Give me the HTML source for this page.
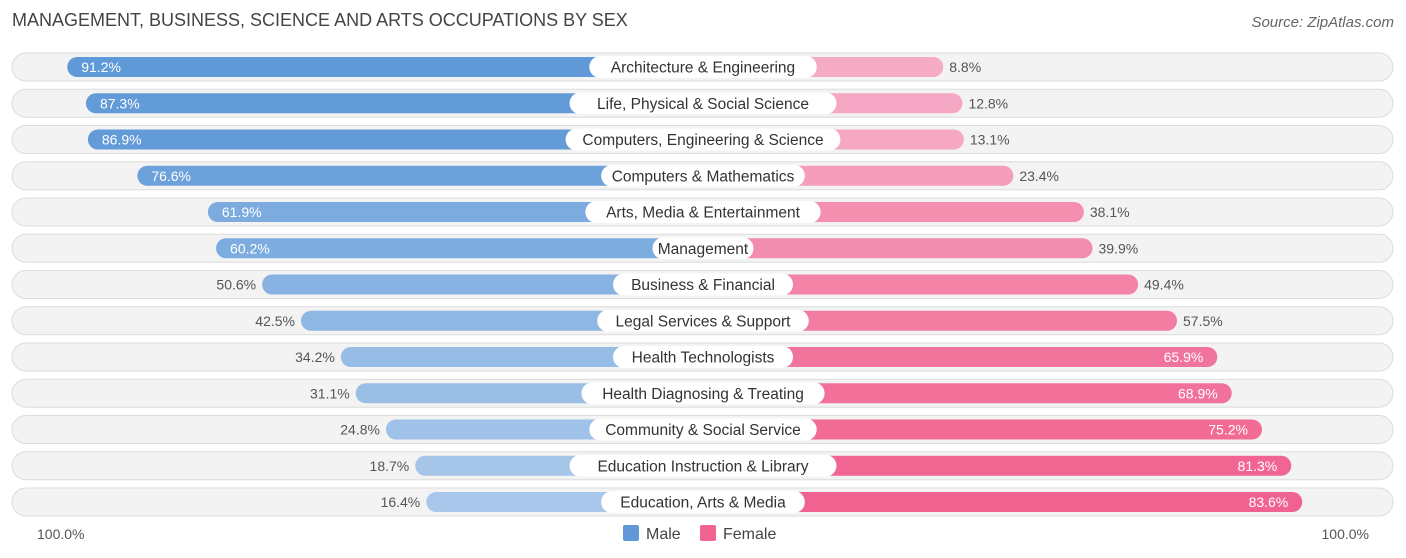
<!DOCTYPE html>
<html><head><meta charset="utf-8"><style>
body{margin:0;width:1406px;height:558px;background:#fff;font-family:"Liberation Sans",sans-serif;position:relative;overflow:hidden}
.t{position:absolute;left:12px;top:10px;font-size:18px;color:#444}
.s{position:absolute;right:12px;top:14px;font-size:15px;color:#666;font-style:italic}
</style></head><body>
<div class="t">MANAGEMENT, BUSINESS, SCIENCE AND ARTS OCCUPATIONS BY SEX</div>
<div class="s">Source: ZipAtlas.com</div>
<svg id="c" width="1406" height="558" style="position:absolute;left:0;top:0"></svg>
<script>
const categories=["Architecture & Engineering","Life, Physical & Social Science","Computers, Engineering & Science","Computers & Mathematics","Arts, Media & Entertainment","Management","Business & Financial","Legal Services & Support","Health Technologists","Health Diagnosing & Treating","Community & Social Service","Education Instruction & Library","Education, Arts & Media"];
const male=[91.2,87.3,86.9,76.6,61.9,60.2,50.6,42.5,34.2,31.1,24.8,18.7,16.4];
const female=[8.8,12.8,13.1,23.4,38.1,39.9,49.4,57.5,65.9,68.9,75.2,81.3,83.6];
const svg=document.getElementById('c');const NS='http://www.w3.org/2000/svg';
const cx=703,base=198,k=4.8,y0=67,dy=36.25;
function w(v){return base+k*v;}
function mix(a,b,t){return 'rgb('+a.map((x,i)=>Math.round(x+(b[i]-x)*t)).join(',')+')';}
function mk(tag,at,txt){const e=document.createElementNS(NS,tag);for(const a in at)e.setAttribute(a,at[a]);if(txt!=null)e.textContent=txt;svg.appendChild(e);return e;}
categories.forEach((c,i)=>{
const y=y0+i*dy;
let r=mk('rect',{x:12,y:y-14,width:1381,height:28,rx:14,fill:'#f3f3f3',stroke:'#dcdcdc'});


const mw=w(male[i]),fw=w(female[i]);
const mt=Math.min(1,Math.max(0,(male[i]-15)/75));
let b=mk('rect',{x:cx-mw,y:y-10,width:mw,height:20,rx:10,fill:mix([170,200,234],[96,153,216],mt)});


const ft=Math.min(1,Math.max(0,(female[i]-8)/76));
b=mk('rect',{x:cx,y:y-10,width:fw,height:20,rx:10,fill:mix([246,172,198],[240,98,143],ft)});


const mIn=male[i]>55;
let t=mk('text',{x:mIn?cx-mw+14:cx-mw-6,y:y+5,'font-size':14,fill:mIn?'#fff':'#555','text-anchor':mIn?'start':'end'},male[i].toFixed(1)+'%');


const fIn=female[i]>60;
t=mk('text',{x:fIn?cx+fw-14:cx+fw+6,y:y+5,'font-size':14,fill:fIn?'#fff':'#555','text-anchor':fIn?'end':'start'},female[i].toFixed(1)+'%');


const lw=c.length*7.9+22;
let p=mk('rect',{x:cx-lw/2,y:y-11,width:lw,height:22,rx:11,fill:'#fff'});


t=mk('text',{x:cx,y:y+5.5,'font-size':15.5,fill:'#333','text-anchor':'middle'},c);


});
let e=mk('text',{x:37,y:539,'font-size':14,fill:'#555'},'100.0%');


e=mk('text',{x:1369,y:539,'font-size':14,fill:'#555','text-anchor':'end'},'100.0%');


e=mk('rect',{x:623,y:525,width:16,height:16,rx:2,fill:'#6199d8'});


e=mk('text',{x:646,y:539,'font-size':16,fill:'#444'},'Male');


e=mk('rect',{x:700,y:525,width:16,height:16,rx:2,fill:'#f0648f'});


e=mk('text',{x:723,y:539,'font-size':16,fill:'#444'},'Female');


</script>
</body></html>
